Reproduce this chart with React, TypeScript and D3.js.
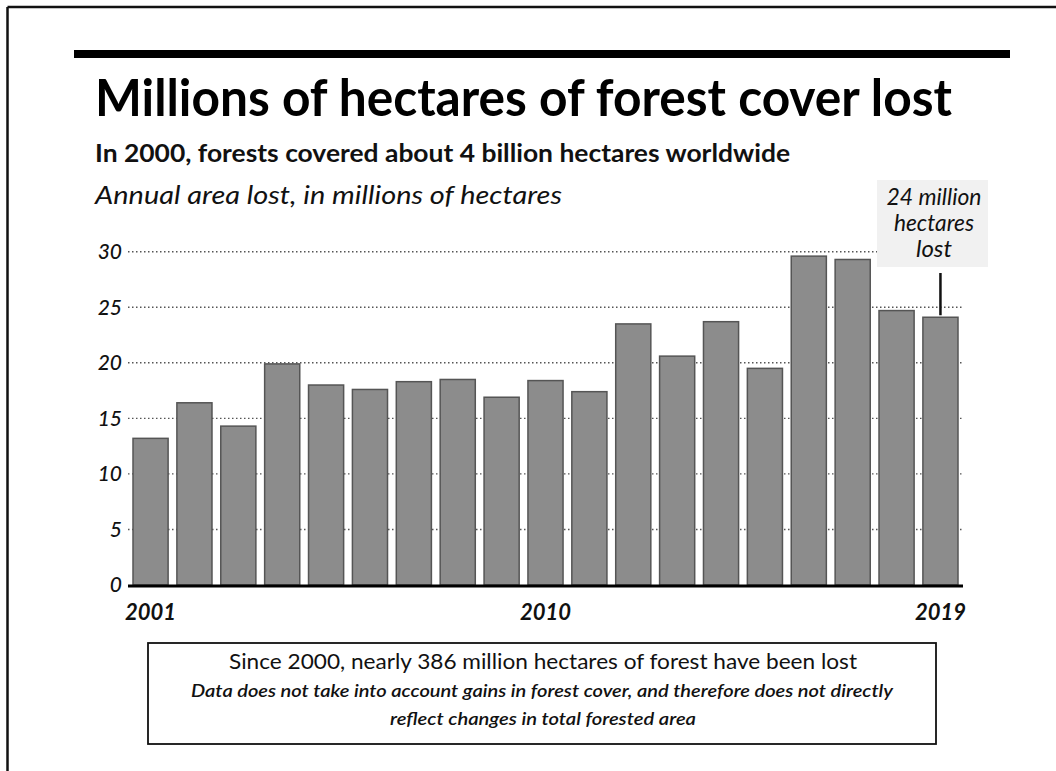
import React from "react";
import * as d3 from "d3";

const years = ["2001","2002","2003","2004","2005","2006","2007","2008","2009","2010","2011","2012","2013","2014","2015","2016","2017","2018","2019"];
const lossValues = [13.2, 16.4, 14.3, 19.9, 18.0, 17.6, 18.3, 18.5, 16.9, 18.4, 17.4, 23.5, 20.6, 23.7, 19.5, 29.6, 29.3, 24.7, 24.1];
const yTicks = [0, 5, 10, 15, 20, 25, 30];
const xTickLabels = ["2001", "2010", "2019"];

const titleText = "Millions of hectares of forest cover lost";
const subtitleText = "In 2000, forests covered about 4 billion hectares worldwide";
const unitText = "Annual area lost, in millions of hectares";
const annotationLines = ["24 million", "hectares", "lost"];
const annotationWidths = [95, 80, 36];
const annotatedYear = "2019";
const noteMain = "Since 2000, nearly 386 million hectares of forest have been lost";
const noteSub = [
  "Data does not take into account gains in forest cover, and therefore does not directly",
  "reflect changes in total forested area",
];

const W = 1056;
const H = 771;
const FONT = "Lato, 'Open Sans', sans-serif";

export default function App() {
  const x = d3.scaleBand<string>().domain(years).range([128, 963]).paddingInner(0.2).paddingOuter(0.114);
  const y = d3.scaleLinear().domain([0, 30]).range([585, 251.7]);
  const gridX0 = 128;
  const gridX1 = 963;
  const annX = (x(annotatedYear) ?? 0) + x.bandwidth() / 2;
  const annValue = lossValues[years.indexOf(annotatedYear)];

  return (
    <svg width={W} height={H} style={{ position: "absolute", left: 0, top: 0, background: "#fff" }} fontFamily={FONT}>
      <rect x={0} y={0} width={W} height={H} fill="#fff" />
      {/* page frame */}
      <line x1={7.5} y1={7} x2={W} y2={7} stroke="#111" strokeWidth={2.5} />
      <line x1={7.5} y1={7} x2={7.5} y2={H} stroke="#111" strokeWidth={2.5} />
      {/* thick rule */}
      <rect x={74} y={50} width={936} height={8} fill="#000" />

      <text x={95} y={116} fontSize={51} fontWeight={700} fill="#000" textLength={857} lengthAdjust="spacingAndGlyphs">{titleText}</text>
      <text x={95} y={162} fontSize={25} fontWeight={700} fill="#111" textLength={695} lengthAdjust="spacingAndGlyphs">{subtitleText}</text>
      <text x={95} y={204} fontSize={25} fontStyle="italic" fill="#111" textLength={467} lengthAdjust="spacingAndGlyphs">{unitText}</text>

      {/* gridlines */}
      {yTicks.filter((t) => t > 0).map((t) => (
        <line key={t} x1={gridX0} x2={gridX1} y1={y(t)} y2={y(t)} stroke="#555" strokeWidth={1.4} strokeDasharray="1.5,2.5" />
      ))}
      {/* y labels */}
      {yTicks.map((t) => (
        <text key={t} x={122} y={y(t)} dy="0.35em" textAnchor="end" fontSize={21} fontStyle="italic" fontWeight={500} fill="#111">{t}</text>
      ))}

      {/* bars */}
      {years.map((yr, i) => (
        <rect key={yr} x={x(yr)} y={y(lossValues[i])} width={x.bandwidth()} height={y(0) - y(lossValues[i])}
          fill="#8c8c8c" stroke="#555" strokeWidth={1.5} />
      ))}
      {/* baseline */}
      <line x1={gridX0} x2={gridX1} y1={y(0) + 1} y2={y(0) + 1} stroke="#000" strokeWidth={3} />

      {/* x labels */}
      {xTickLabels.map((l) => (
        <text key={l} x={(x(l) ?? 0) + x.bandwidth() / 2} y={620} textAnchor="middle" fontSize={22} fontStyle="italic" fontWeight={700} fill="#111">{l}</text>
      ))}

      {/* annotation */}
      <rect x={877} y={180} width={111} height={87} fill="#f1f1f1" />
      {annotationLines.map((l, i) => (
        <text key={l} x={934} y={205 + i * 26} textAnchor="middle" fontSize={23} fontStyle="italic" fill="#111"
          textLength={annotationWidths[i]} lengthAdjust="spacingAndGlyphs">{l}</text>
      ))}
      <line x1={annX} x2={annX} y1={273} y2={y(annValue) - 2} stroke="#111" strokeWidth={2.5} />

      {/* footnote box */}
      <rect x={148} y={643} width={788} height={101} fill="#fff" stroke="#111" strokeWidth={1.8} />
      <text x={543} y={669} textAnchor="middle" fontSize={22} fill="#111" textLength={628} lengthAdjust="spacingAndGlyphs">{noteMain}</text>
      <text x={542} y={697} textAnchor="middle" fontSize={17.5} fontStyle="italic" fontWeight={600} fill="#111" textLength={702} lengthAdjust="spacingAndGlyphs">{noteSub[0]}</text>
      <text x={543} y={725} textAnchor="middle" fontSize={17.5} fontStyle="italic" fontWeight={600} fill="#111" textLength={306} lengthAdjust="spacingAndGlyphs">{noteSub[1]}</text>
    </svg>
  );
}
